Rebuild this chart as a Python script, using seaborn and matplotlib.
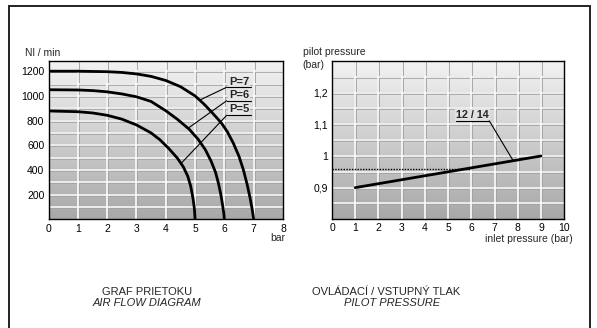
import numpy as np
import pandas as pd
import matplotlib
matplotlib.use("Agg")
import matplotlib.pyplot as plt
import seaborn as sns
from matplotlib.colors import LinearSegmentedColormap
from matplotlib.patches import Rectangle

# ---------------- data ----------------
# Air flow diagram (Nl/min vs bar)
p7_x = [0, 1, 2, 2.5, 3, 3.5, 4, 4.5, 5, 5.3, 5.6, 5.9, 6.1, 6.3, 6.5, 6.65, 6.78, 6.88, 6.95, 7.0]
p7_y = [1200, 1200, 1196, 1190, 1178, 1158, 1125, 1075, 1000, 935, 860, 780, 710, 620, 510,
        400, 280, 170, 80, 0]
p6_x = [0, 1, 1.5, 2, 2.5, 3, 3.5, 4, 4.4, 4.8, 5.1, 5.35, 5.55, 5.7, 5.8, 5.88, 5.94, 5.98, 6.0]
p6_y = [1050, 1048, 1043, 1033, 1016, 993, 955, 880, 810, 730, 650, 565, 470, 380, 290,
        200, 115, 50, 0]
p5_x = [0, 1, 1.5, 2, 2.5, 3, 3.5, 3.8, 4.1, 4.4, 4.6, 4.75, 4.85, 4.93, 4.98, 5.0]
p5_y = [878, 872, 862, 843, 812, 765, 700, 645, 575, 495, 425, 350, 270, 170, 80, 0]
curve_names = ["P=7", "P=6", "P=5"]

flow_xticks = [0, 1, 2, 3, 4, 5, 6, 7, 8]
flow_yticks = [200, 400, 600, 800, 1000, 1200]

# Pilot pressure diagram
pilot_x = [1, 9]
pilot_y = [0.9, 1.0]
dotted_x = [0, 6]
dotted_y = [0.96, 0.96]
pilot_xticks = [0, 1, 2, 3, 4, 5, 6, 7, 8, 9, 10]
pilot_yticks = [0.9, 1.0, 1.1, 1.2]
pilot_yticklabels = ["0,9", "1", "1,1", "1,2"]

# ---------------- style ----------------
sns.set_style("white")
plt.rcParams['font.family'] = ['Liberation Sans', 'DejaVu Sans']

W, H = 597, 328
fig = plt.figure(figsize=(W / 100, H / 100), dpi=100)
fig.patch.set_facecolor("white")


def ax_at(l, t, r, b):
    return fig.add_axes([l / W, 1 - b / H, (r - l) / W, (b - t) / H])


ax1 = ax_at(48.5, 60.7, 283, 219.4)
ax2 = ax_at(332, 61, 564.3, 219.3)

cmap = LinearSegmentedColormap.from_list("g", ["#a8a8a8", "#f3f3f3"])


def decorate(ax, xlim, ylim, vgrid, hgrid):
    ax.set_xlim(*xlim)
    ax.set_ylim(*ylim)
    grad = np.linspace(0, 1, 256).reshape(-1, 1)
    ax.imshow(grad, extent=[xlim[0], xlim[1], ylim[0], ylim[1]], origin="lower",
              aspect="auto", cmap=cmap, zorder=0)
    for v in vgrid:
        ax.axvline(v, color="#a2a2a2", lw=2.0, zorder=1)
        ax.axvline(v, color="white", lw=1.2, zorder=1.1)
    for h in hgrid:
        ax.axhline(h, color="#a2a2a2", lw=1.9, zorder=1)
        ax.axhline(h, color="white", lw=1.1, zorder=1.1)
    for s in ax.spines.values():
        s.set_visible(True)
        s.set_color("black")
        s.set_linewidth(1.0)
        s.set_zorder(5)
    ax.tick_params(length=0, labelsize=7.5, pad=3, colors="black")


# ---------------- left: air flow ----------------
ylim1 = (0, 1285)
decorate(ax1, (0, 8), ylim1, range(1, 8), range(100, 1300, 100))
df = pd.concat([
    pd.DataFrame({"x": p7_x, "y": p7_y, "curve": curve_names[0]}),
    pd.DataFrame({"x": p6_x, "y": p6_y, "curve": curve_names[1]}),
    pd.DataFrame({"x": p5_x, "y": p5_y, "curve": curve_names[2]}),
])
sns.lineplot(data=df, x="x", y="y", units="curve", estimator=None, sort=False,
             color="black", lw=2.0, ax=ax1, legend=False, zorder=3)
ax1.set_xticks(flow_xticks)
ax1.set_yticks(flow_yticks)
ax1.set_xlabel("")
ax1.set_ylabel("")

# labels with leaders
lab = [("P=7", 1115, 1070, (5.15, 965)),
       ("P=6", 1007, 961, (4.76, 738)),
       ("P=5", 891, 843, (4.53, 455))]
for name, ty, uy, end in lab:
    ax1.text(6.5, ty, name, ha="center", va="center", fontsize=8, fontweight="bold",
             zorder=4, bbox=dict(boxstyle="square,pad=0.1", fc="#e6e6e6", ec="none"))
    ax1.plot([6.08, 6.9], [uy, uy], color="black", lw=0.8, zorder=4)
    ax1.plot([6.08, end[0]], [uy, end[1]], color="black", lw=0.8, zorder=4)

# ---------------- right: pilot pressure ----------------
decorate(ax2, (0, 10), (0.8, 1.3), range(1, 10), np.arange(0.85, 1.3, 0.05))
sns.lineplot(x=pilot_x, y=pilot_y, color="black", lw=2.0, ax=ax2, zorder=3)
sns.lineplot(x=dotted_x, y=dotted_y, color="black", lw=1.0, ax=ax2, zorder=3,
             linestyle=(0, (1, 1)))
ax2.set_xticks(pilot_xticks)
ax2.set_yticks(pilot_yticks)
ax2.set_yticklabels(pilot_yticklabels)
ax2.text(6.05, 1.129, "12 / 14", ha="center", va="center", fontsize=7.8,
         fontweight="bold", zorder=4,
         bbox=dict(boxstyle="square,pad=0.1", fc="#e2e2e2", ec="none"))
ax2.plot([5.32, 6.77], [1.111, 1.111], color="black", lw=0.8, zorder=4)
ax2.plot([6.77, 7.8], [1.111, 0.985], color="black", lw=0.8, zorder=4)

# ---------------- figure texts ----------------
def ftext(px, py, s, **kw):
    fig.text(px / W, 1 - py / H, s, **kw)


ftext(25, 53, "Nl / min", ha="left", va="center", fontsize=7.5)
ftext(285, 238, "bar", ha="right", va="center", fontsize=7.5)
ftext(303, 52, "pilot pressure", ha="left", va="center", fontsize=7.5)
ftext(302.5, 65, "(bar)", ha="left", va="center", fontsize=7.5)
ftext(573, 239, "inlet pressure (bar)", ha="right", va="center", fontsize=7.5)

narrow = ['Liberation Sans Narrow', 'Liberation Sans', 'DejaVu Sans']
ftext(147.5, 291.8, "GRAF PRIETOKU", ha="center", va="center", fontsize=8, family=narrow)
ftext(147, 302.8, "AIR FLOW DIAGRAM", ha="center", va="center", fontsize=8,
      family=narrow, style="italic")
ftext(386, 291.8, "OVLÁDACÍ / VSTUPNÝ TLAK", ha="center", va="center", fontsize=8,
      family=narrow)
ftext(392, 302.8, "PILOT PRESSURE", ha="center", va="center", fontsize=8,
      family=narrow, style="italic")

# outer frame
fig.add_artist(Rectangle((9 / W, -0.02), (590 - 9) / W, 1.02 - 6 / H,
                         transform=fig.transFigure, fill=False, ec="#222222", lw=1.4))

fig.savefig("out.png", dpi=100)
